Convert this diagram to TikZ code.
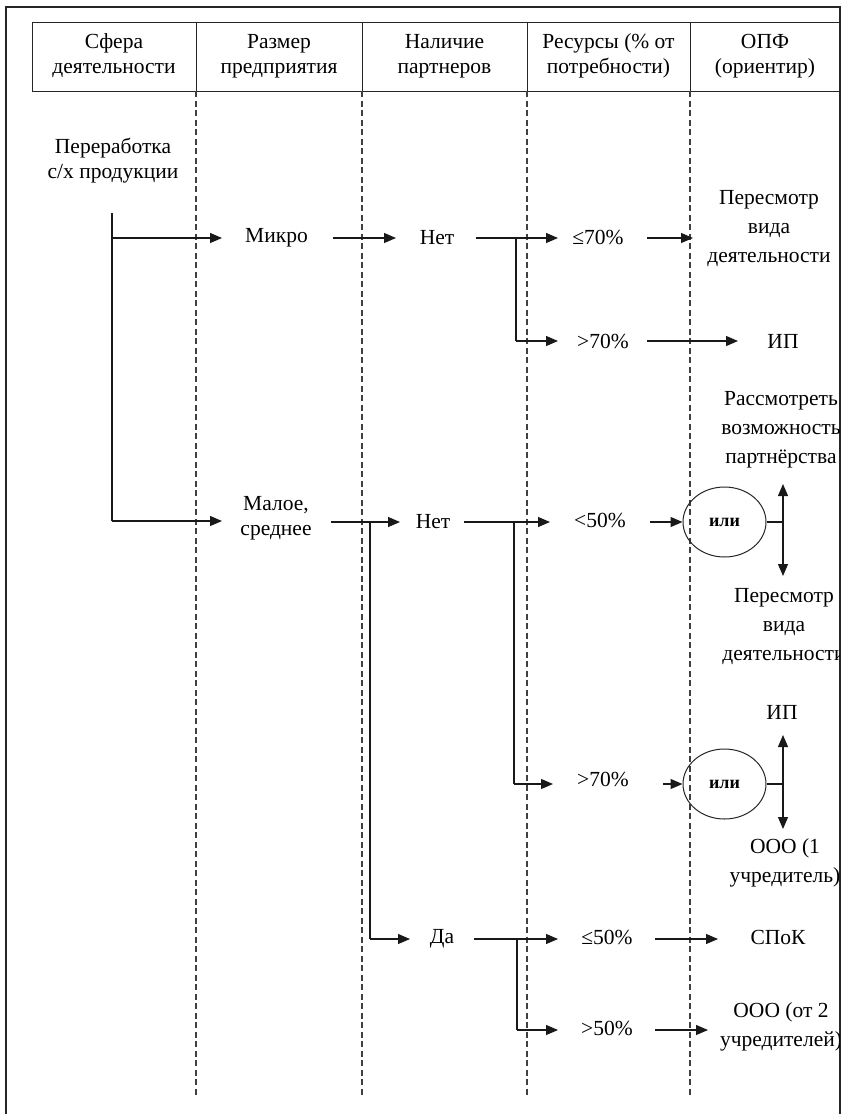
\documentclass[tikz,border=0pt]{standalone}
\usepackage{fontspec}
\setmainfont{Liberation Serif}
\usetikzlibrary{arrows.meta,shapes.geometric}
\begin{document}
\begin{tikzpicture}[x=1pt,y=-1pt,
  txt/.style={font=\fontsize{21.5}{25}\selectfont, align=center, inner sep=0pt},
  rtxt/.style={font=\fontsize{21.5}{29}\selectfont, align=center, inner sep=0pt},
  ln/.style={line width=1.2pt, draw=black!90},
  arr/.style={ln, -{Triangle[length=12pt,width=10pt]}},
  sep/.style={dash pattern=on 6pt off 3.5pt, line width=1.3pt, draw=black!75},
  orell/.style={ellipse, draw=black!85, line width=1pt, minimum width=83pt, minimum height=70pt, inner sep=0pt, font=\bfseries\fontsize{18}{20}\selectfont}
]
\useasboundingbox (0,0) rectangle (844,1114);
\fill[white] (0,0) rectangle (844,1114);

% outer frame
\draw[line width=2pt, black!85] (6,1114) -- (6,7) -- (840,7) -- (840,1114);

% header table
\draw[line width=1pt, black!85] (32,22) rectangle (840,91);
\foreach \cx in {196,362,527,690} {
  \draw[line width=1pt, black!85] (\cx,22) -- (\cx,91);
  \draw[sep] (\cx,91) -- (\cx,1095);
}
\node[txt] (h1) at (114,56) {Сфера\\деятельности};
\node[txt] (h2) at (279,56) {Размер\\предприятия};
\node[txt] (h3) at (444.5,56) {Наличие\\партнеров};
\node[txt] (h4) at (608.5,56) {Ресурсы (\% от\\потребности)};
\node[txt] (h5) at (765,56) {ОПФ\\(ориентир)};

\begin{scope}
\clip (0,0) rectangle (839,1114);
% nodes
\node[txt] (pererab) at (113,161) {Переработка\\с/х продукции};
\node[txt] (micro) at (276.5,238) {Микро};
\node[txt] (net1) at (437,238) {Нет};
\node[txt] (le70) at (598,237) {≤70\%};
\node[txt] (gt70a) at (603,341) {>70\%};
\node[rtxt] (per1) at (769,229) {Пересмотр\\вида\\деятельности};
\node[txt] (ip1) at (783,341) {ИП};
\node[rtxt] (rass) at (781,430) {Рассмотреть\\возможность\\партнёрства};

\node[txt] (malo) at (276,518) {Малое,\\среднее};
\node[txt] (net2) at (433,522) {Нет};
\node[txt] (lt50) at (600,520) {<50\%};
\node[orell] (ell1) at (724.5,522) {или};
\node[rtxt] (per2) at (784,627) {Пересмотр\\вида\\деятельности};
\node[txt] (ip2) at (782,712) {ИП};
\node[txt] (gt70b) at (603,779) {>70\%};
\node[orell] (ell2) at (724.5,784) {или};
\node[rtxt] (ooo1) at (785,863) {ООО (1\\учредитель)};

\node[txt] (da) at (442,939) {Да};
\node[txt] (le50) at (607,937) {≤50\%};
\node[txt] (gt50) at (607,1028) {>50\%};
\node[txt] (spok) at (778,937) {СПоК};
\node[rtxt] (ooo2) at (781,1027) {ООО (от 2\\учредителей)};
\end{scope}

% coordinates
\coordinate (t0) at (112,213);
\coordinate (t1) at (112,238);
\coordinate (t2) at (112,521);
\coordinate (b1) at (516,238);
\coordinate (b1d) at (516,341);
\coordinate (b2) at (370,522);
\coordinate (b2d) at (370,939);
\coordinate (b3) at (514,522);
\coordinate (b3d) at (514,784);
\coordinate (b4) at (517,939);
\coordinate (b4d) at (517,1030);
\coordinate (j1) at (783,522);
\coordinate (j1u) at (783,484);
\coordinate (j1d) at (783,576);
\coordinate (j2) at (783,784);
\coordinate (j2u) at (783,735);
\coordinate (j2d) at (783,829);
\coordinate (e1) at (693,238);
\coordinate (e2) at (738,341);
\coordinate (e3) at (718,939);
\coordinate (e4) at (708,1030);

% trunk
\draw[ln] (t0) -- (t2);
\draw[arr] (t1) -- (222,238) coordinate (a1);
\draw[arr] (t2) -- (222,521) coordinate (a2);

% micro branch
\draw[arr] (333,238) -- (396,238);
\draw[ln] (476,238) -- (b1);
\draw[arr] (b1) -- (558,238);
\draw[ln] (b1) -- (b1d);
\draw[arr] (b1d) -- (558,341);
\draw[arr] (647,238) -- (e1);
\draw[arr] (647,341) -- (e2);

% small/medium branch
\draw[ln] (331,522) -- (b2);
\draw[arr] (b2) -- (400,522);
\draw[ln] (b2) -- (b2d);
\draw[arr] (b2d) -- (410,939);

\draw[ln] (464,522) -- (b3);
\draw[arr] (b3) -- (550,522);
\draw[ln] (b3) -- (b3d);
\draw[arr] (b3d) -- (553,784);

\draw[arr] (650,522) -- (ell1.west);
\draw[ln] (ell1.east) -- (j1);
\draw[arr] (j1) -- (j1u);
\draw[arr] (j1) -- (j1d);

\draw[arr] (663,784) -- (ell2.west);
\draw[ln] (ell2.east) -- (j2);
\draw[arr] (j2) -- (j2u);
\draw[arr] (j2) -- (j2d);

\draw[ln] (474,939) -- (b4);
\draw[arr] (b4) -- (558,939);
\draw[ln] (b4) -- (b4d);
\draw[arr] (b4d) -- (558,1030);
\draw[arr] (655,939) -- (e3);
\draw[arr] (655,1030) -- (e4);
\end{tikzpicture}
\end{document}
